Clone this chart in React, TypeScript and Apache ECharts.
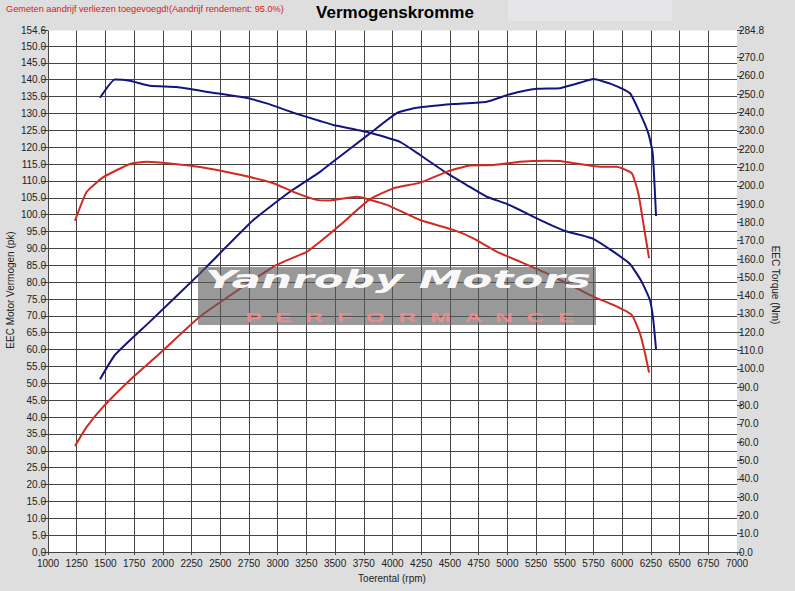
import React, { useEffect, useRef } from "react";
import * as echarts from "echarts";

// ---- Data ----
const TITLE = "Vermogenskromme";
const SUBTITLE = "Gemeten aandrijf verliezen toegevoegd!(Aandrijf rendement: 95.0%)";
const X_NAME = "Toerental (rpm)";
const Y_LEFT_NAME = "EEC Motor Vermogen (pk)";
const Y_RIGHT_NAME = "EEC Torque (Nm)";

const LEFT_TICKS = [0, 5, 10, 15, 20, 25, 30, 35, 40, 45, 50, 55, 60, 65, 70, 75, 80, 85, 90, 95, 100, 105, 110, 115, 120, 125, 130, 135, 140, 145, 150, 154.6];
const RIGHT_TICKS = [0, 10, 20, 30, 40, 50, 60, 70, 80, 90, 100, 110, 120, 130, 140, 150, 160, 170, 180, 190, 200, 210, 220, 230, 240, 250, 260, 270, 284.8];

// Blue: measured power (pk)
const BLUE_POWER_RPM = [1453, 1583, 1888, 2324, 2788, 3107, 3369, 3456, 3804, 4037, 4211, 4530, 4821, 5023, 5256, 5459, 5633, 5749, 5923, 6068, 6155, 6228, 6266, 6295];
const BLUE_POWER_PK = [51.2, 58.4, 68.3, 82.6, 98.4, 106.8, 112.7, 115.0, 124.1, 130.1, 131.7, 132.8, 133.5, 135.7, 137.3, 137.5, 139.1, 140.2, 138.5, 136.0, 130.1, 124.1, 118.2, 99.6];

// Blue: measured torque (Nm)
const BLUE_TORQUE_RPM = [1453, 1583, 1714, 1888, 2120, 2411, 2701, 2904, 3136, 3369, 3485, 3804, 4065, 4240, 4472, 4646, 4821, 4995, 5343, 5517, 5633, 5749, 5923, 6068, 6170, 6242, 6271, 6295];
const BLUE_TORQUE_NM = [248.1, 258.1, 257.4, 254.6, 253.9, 251.1, 248.3, 245.0, 239.9, 235.4, 233.2, 229.0, 224.0, 216.8, 206.9, 200.4, 194.0, 190.1, 179.6, 175.0, 173.2, 171.0, 164.0, 157.3, 147.6, 137.6, 126.7, 110.7];

// Red: original power (pk)
const RED_POWER_RPM = [1235, 1337, 1482, 1714, 1975, 2324, 2701, 2991, 3253, 3369, 3543, 3804, 4007, 4240, 4472, 4675, 4878, 5110, 5343, 5459, 5633, 5807, 5952, 6083, 6141, 6184, 6234];
const RED_POWER_PK = [31.4, 37.1, 43.1, 51.0, 58.9, 69.8, 78.7, 85.1, 89.0, 92.0, 96.9, 104.6, 107.8, 109.5, 112.7, 114.6, 114.7, 115.7, 116.0, 115.9, 115.0, 114.2, 114.2, 112.3, 106.3, 97.5, 87.1];

// Red: original torque (Nm)
const RED_TORQUE_RPM = [1235, 1337, 1482, 1714, 1859, 2062, 2324, 2672, 2962, 3136, 3340, 3456, 3688, 3950, 4240, 4530, 4704, 4907, 5110, 5343, 5633, 5749, 5923, 6083, 6155, 6199, 6234];
const RED_TORQUE_NM = [180.9, 196.7, 204.7, 211.9, 213.1, 212.2, 210.2, 206.0, 201.4, 196.7, 192.3, 192.0, 194.0, 189.6, 181.3, 175.9, 171.3, 164.0, 158.6, 152.2, 143.1, 139.5, 134.9, 129.5, 119.4, 108.5, 98.0];

const WATERMARK_TOP = "Yanroby Motors";
const WATERMARK_BOTTOM = "PERFORMANCE";

const zip = (xs: number[], ys: number[]) => xs.map((x, i) => [x, ys[i]]);

const FONT = "Liberation Sans, Arial, sans-serif";
const BLUE = "#14147e";
const RED = "#d22a22";
const GRID = "#444";

export default function App() {
  const ref = useRef<HTMLDivElement>(null);

  useEffect(() => {
    if (!ref.current) return;
    const chart = echarts.init(ref.current, undefined, { renderer: "svg" });
    const axisLabelBase = { color: "#222", fontSize: 10, fontFamily: FONT };
    const lineSeries = (name: string, data: number[][], color: string, yAxisIndex: number) => ({
      name,
      type: "line",
      yAxisIndex,
      data,
      showSymbol: false,
      smooth: 0.15,
      lineStyle: { color, width: 2 },
      itemStyle: { color },
      z: 3,
    });
    chart.setOption({
      animation: false,
      backgroundColor: "#dedede",
      grid: { left: 48, right: 58, top: 30.5, bottom: 39, show: true, backgroundColor: "#ffffff", borderWidth: 0 },
      xAxis: {
        type: "value",
        min: 1000,
        max: 7000,
        interval: 250,
        axisLine: { show: false },
        axisTick: { show: true, length: 3, lineStyle: { color: GRID } },
        axisLabel: { ...axisLabelBase, margin: 6, showMinLabel: true, showMaxLabel: true, formatter: (v: number) => String(v) },
        splitLine: { show: true, showMaxLine: false, lineStyle: { color: GRID, width: 1 } },
      },
      yAxis: [
        {
          type: "value",
          position: "left",
          min: 0,
          max: 154.6,
          interval: 5,
          axisLine: { show: false },
          axisTick: { show: true, length: 6, customValues: LEFT_TICKS, lineStyle: { color: GRID } },
          axisLabel: { ...axisLabelBase, margin: 2, customValues: LEFT_TICKS, formatter: (v: number) => v.toFixed(1) },
          splitLine: { show: true, showMaxLine: false, lineStyle: { color: GRID, width: 1 } },
        },
        {
          type: "value",
          position: "right",
          min: 0,
          max: 284.8,
          interval: 10,
          axisLine: { show: false },
          axisTick: { show: true, length: 5, customValues: RIGHT_TICKS, lineStyle: { color: GRID } },
          axisLabel: { ...axisLabelBase, margin: 2, customValues: RIGHT_TICKS, formatter: (v: number) => v.toFixed(1) },
          splitLine: { show: false },
        },
      ],
      series: [
        lineSeries("Vermogen", zip(BLUE_POWER_RPM, BLUE_POWER_PK), BLUE, 0),
        lineSeries("Koppel", zip(BLUE_TORQUE_RPM, BLUE_TORQUE_NM), BLUE, 1),
        lineSeries("Vermogen origineel", zip(RED_POWER_RPM, RED_POWER_PK), RED, 0),
        lineSeries("Koppel origineel", zip(RED_TORQUE_RPM, RED_TORQUE_NM), RED, 1),
      ],
      graphic: [
        { type: "rect", z: -1, shape: { x: 508, y: 0, width: 164, height: 21 }, style: { fill: "#e6e5e7" } },
        {
          type: "text", x: 395, y: 12,
          style: { text: TITLE, fontSize: 17, fontWeight: "bold", fontFamily: FONT, fill: "#000", textAlign: "center", textVerticalAlign: "middle" },
        },
        {
          type: "text", x: 6, y: 9,
          style: { text: SUBTITLE, fontSize: 9.2, fontFamily: FONT, fill: "#d42020", textAlign: "left", textVerticalAlign: "middle" },
        },
        {
          type: "text", x: 392, y: 578,
          style: { text: X_NAME, fontSize: 10, fontFamily: FONT, fill: "#222", textAlign: "center", textVerticalAlign: "middle" },
        },
        {
          type: "text", x: 10, y: 290, rotation: Math.PI / 2,
          style: { text: Y_LEFT_NAME, fontSize: 10, fontFamily: FONT, fill: "#222", textAlign: "center", textVerticalAlign: "middle" },
        },
        {
          type: "text", x: 775, y: 285, rotation: -Math.PI / 2,
          style: { text: Y_RIGHT_NAME, fontSize: 10, fontFamily: FONT, fill: "#222", textAlign: "center", textVerticalAlign: "middle" },
        },
        {
          type: "group",
          z: 100,
          children: [
            { type: "rect", z: 100, shape: { x: 198, y: 267, width: 398, height: 58 }, style: { fill: "rgba(90,90,90,0.62)" } },
            {
              type: "text", z: 101, x: 398, y: 279, scaleX: 1.75, scaleY: 1,
              style: { text: WATERMARK_TOP, fontSize: 25, fontWeight: "bold", fontStyle: "italic", fontFamily: "DejaVu Sans, sans-serif", fill: "rgba(252,252,252,0.97)", textAlign: "center", textVerticalAlign: "middle" },
            },
            {
              type: "text", z: 101, x: 410, y: 317, scaleX: 1.9, scaleY: 1,
              style: { text: WATERMARK_BOTTOM.split("").join(" \u00a0"), fontSize: 13, fontWeight: "bold", fontFamily: FONT, fill: "rgba(245,140,140,0.9)", textAlign: "center", textVerticalAlign: "middle" },
            },
          ],
        },
      ],
    });
    return () => chart.dispose();
  }, []);

  return <div ref={ref} style={{ position: "fixed", left: 0, top: 0, width: 795, height: 591 }} />;
}
